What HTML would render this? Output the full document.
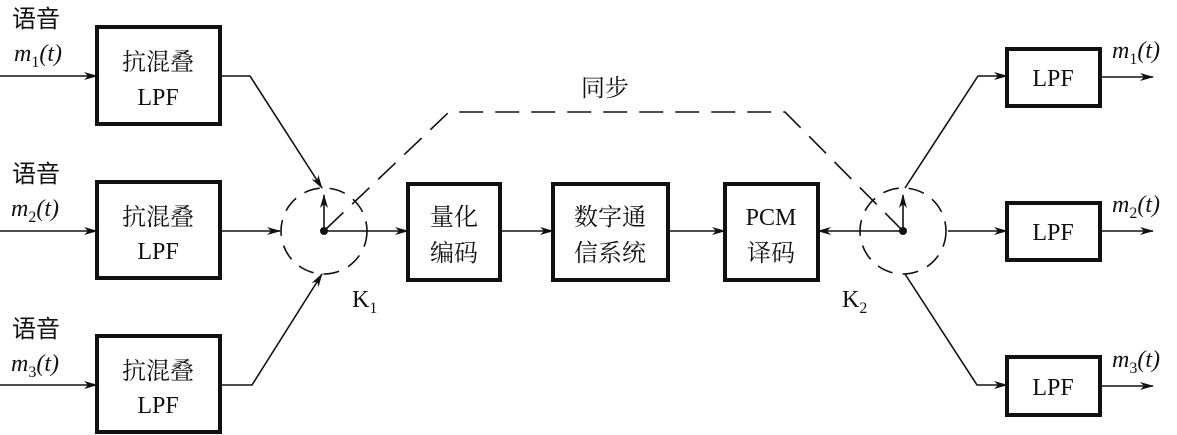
<!DOCTYPE html>
<html><head><meta charset="utf-8"><style>
html,body{margin:0;padding:0;background:#fff}
svg{display:block}
text{font-family:"Liberation Serif","Noto Serif CJK SC",serif;fill:#111}
.c{font-family:"Liberation Serif","Noto Sans CJK SC",sans-serif}
</style></head><body>
<svg width="1177" height="435" viewBox="0 0 1177 435">
<defs><marker id="a" markerWidth="14" markerHeight="8" refX="13" refY="4" orient="auto" markerUnits="userSpaceOnUse"><path d="M0,0 L14,4 L0,8 L4,4z" fill="#111"/></marker></defs>
<g stroke="#111" fill="none">
<g stroke-width="4">
<rect x="97" y="27" width="123" height="97"/>
<rect x="97" y="182" width="123" height="96"/>
<rect x="97" y="336" width="123" height="96"/>
<rect x="408" y="184" width="92" height="96"/>
<rect x="553" y="184" width="115" height="96"/>
<rect x="725" y="184" width="93" height="96"/>
<rect x="1007" y="49" width="93" height="57"/>
<rect x="1007" y="203" width="93" height="57"/>
<rect x="1007" y="357" width="93" height="58"/>
</g>
<g stroke-width="1.6">
<line x1="0" y1="76" x2="97" y2="76" marker-end="url(#a)"/>
<line x1="0" y1="231" x2="97" y2="231" marker-end="url(#a)"/>
<line x1="0" y1="385" x2="97" y2="385" marker-end="url(#a)"/>
<polyline points="220,76 250,76 322,188" marker-end="url(#a)"/>
<line x1="220" y1="231" x2="280" y2="231" marker-end="url(#a)"/>
<polyline points="220,385 252,385 322,274" marker-end="url(#a)"/>
<line x1="324" y1="231" x2="408" y2="231" marker-end="url(#a)"/>
<line x1="500" y1="231" x2="553" y2="231" marker-end="url(#a)"/>
<line x1="668" y1="231" x2="725" y2="231" marker-end="url(#a)"/>
<line x1="903" y1="231" x2="818" y2="231" marker-end="url(#a)"/>
<line x1="324" y1="231" x2="324" y2="195" marker-end="url(#a)"/>
<line x1="903" y1="231" x2="903" y2="195" marker-end="url(#a)"/>
<polyline points="905,188 978,76 1007,76" marker-end="url(#a)"/>
<polyline points="905,274 977,385 1007,385" marker-end="url(#a)"/>
<line x1="948" y1="231" x2="1007" y2="231" marker-end="url(#a)"/>
<line x1="1100" y1="77" x2="1153" y2="77" marker-end="url(#a)"/>
<line x1="1100" y1="231" x2="1153" y2="231" marker-end="url(#a)"/>
<line x1="1100" y1="386" x2="1153" y2="386" marker-end="url(#a)"/>
<circle cx="324" cy="231" r="43" stroke-dasharray="16,10"/>
<circle cx="903" cy="231" r="43" stroke-dasharray="16,10"/>
<polyline points="326,229 449,112 785,112 903,231" stroke-dasharray="24,12"/>
</g>
<circle cx="324" cy="231" r="4" fill="#111" stroke="none"/>
<circle cx="903" cy="231" r="4" fill="#111" stroke="none"/>
</g>
<g font-size="24">
<text class="c" x="12" y="27">语音</text>
<text class="c" x="12" y="182">语音</text>
<text class="c" x="12" y="337">语音</text>
<text x="14" y="61" font-style="italic">m<tspan font-size="16" dy="6" font-style="normal">1</tspan><tspan dy="-6">(t)</tspan></text>
<text x="11" y="216" font-style="italic">m<tspan font-size="16" dy="6" font-style="normal">2</tspan><tspan dy="-6">(t)</tspan></text>
<text x="11" y="371" font-style="italic">m<tspan font-size="16" dy="6" font-style="normal">3</tspan><tspan dy="-6">(t)</tspan></text>
<text x="1112" y="58" font-style="italic">m<tspan font-size="16" dy="6" font-style="normal">1</tspan><tspan dy="-6">(t)</tspan></text>
<text x="1112" y="212" font-style="italic">m<tspan font-size="16" dy="6" font-style="normal">2</tspan><tspan dy="-6">(t)</tspan></text>
<text x="1112" y="367" font-style="italic">m<tspan font-size="16" dy="6" font-style="normal">3</tspan><tspan dy="-6">(t)</tspan></text>
<g class="c" text-anchor="middle">
<text x="158" y="70">抗混叠</text><text x="158" y="105">LPF</text>
<text x="158" y="225">抗混叠</text><text x="158" y="259">LPF</text>
<text x="158" y="379">抗混叠</text><text x="158" y="413">LPF</text>
<text x="454" y="225">量化</text><text x="454" y="261">编码</text>
<text x="610" y="225">数字通</text><text x="610" y="261">信系统</text>
<text x="771" y="225">PCM</text><text x="771" y="261">译码</text>
<text x="1053" y="86">LPF</text><text x="1053" y="240">LPF</text><text x="1053" y="395">LPF</text>
<text x="605" y="96">同步</text>
</g>
<text x="352" y="307">K<tspan font-size="16" dy="6">1</tspan></text>
<text x="842" y="307">K<tspan font-size="16" dy="6">2</tspan></text>
</g>
</svg>
</body></html>
